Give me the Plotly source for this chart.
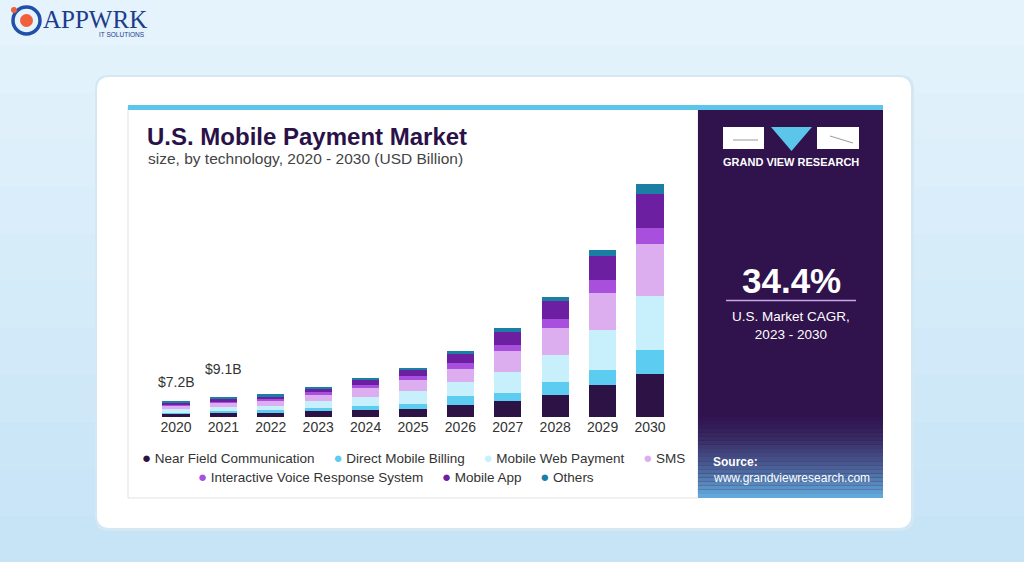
import plotly.graph_objects as go

W, H = 1024, 562

years = ["2020", "2021", "2022", "2023", "2024", "2025", "2026", "2027", "2028", "2029", "2030"]
series_names = ["Near Field Communication", "Direct Mobile Billing", "Mobile Web Payment", "SMS",
                "Interactive Voice Response System", "Mobile App", "Others"]
series_colors = ["#2d1245", "#5ccdf0", "#c8effc", "#dcaef0", "#a94fdd", "#6c1fa0", "#1b7ea3"]

nfc = [1.30, 1.60, 1.95, 2.85, 3.30, 3.80, 5.25, 7.05, 9.75, 14.25, 19.5]
dmb = [0.70, 0.90, 1.20, 1.20, 1.50, 2.25, 4.05, 3.90, 6.00, 7.05, 10.5]
mwp = [1.50, 1.85, 1.95, 3.00, 4.20, 5.65, 6.30, 9.25, 12.30, 18.00, 24.3]
sms = [1.55, 1.85, 2.10, 3.00, 4.05, 4.80, 6.15, 9.45, 12.15, 16.50, 23.7]
ivr = [0.55, 0.70, 0.75, 1.20, 1.50, 1.80, 2.50, 2.55, 3.75, 5.70, 7.2]
app = [0.90, 1.20, 1.15, 1.40, 2.25, 3.00, 4.20, 6.00, 8.25, 10.80, 15.3]
others = [0.70, 1.00, 1.10, 0.85, 0.75, 0.70, 1.20, 1.80, 1.80, 2.70, 4.5]
series_values = [nfc, dmb, mwp, sms, ivr, app, others]

total_labels = ["$7.2B", "$9.1B"]

title_text = "<b>U.S. Mobile Payment Market</b>"
subtitle_text = "size, by technology, 2020 - 2030 (USD Billion)"
cagr_value = "34.4%"
cagr_label = "U.S. Market CAGR,<br>2023 - 2030"


def px(x):
    return x / W


def py(y):
    return 1 - y / H


def rounded_rect(x0, y0, x1, y1, r):
    rx, ry = r / W, r / H
    X0, X1 = px(x0), px(x1)
    Y0, Y1 = py(y0), py(y1)
    return (f"M {X0+rx},{Y0} L {X1-rx},{Y0} Q {X1},{Y0} {X1},{Y0-ry} "
            f"L {X1},{Y1+ry} Q {X1},{Y1} {X1-rx},{Y1} L {X0+rx},{Y1} "
            f"Q {X0},{Y1} {X0},{Y1+ry} L {X0},{Y0-ry} Q {X0},{Y0} {X0+rx},{Y0} Z")


def lerp_color(c1, c2, t):
    a = [int(c1[i:i+2], 16) for i in (1, 3, 5)]
    b = [int(c2[i:i+2], 16) for i in (1, 3, 5)]
    return "#" + "".join(f"{round(a[k] + (b[k]-a[k])*t):02x}" for k in range(3))


fig = go.Figure()
for name, color, vals in zip(series_names, series_colors, series_values):
    fig.add_trace(go.Bar(x=years, y=vals, name=name, marker=dict(color=color, line=dict(width=0)),
                         showlegend=False, hoverinfo="x+y+name"))

shapes = []
for i in range(12):
    shapes.append(dict(type="rect", xref="paper", yref="paper", x0=0, x1=1,
                       y0=py(H * (i + 1) / 12), y1=py(H * i / 12),
                       fillcolor=lerp_color("#e4f3fc", "#c6e4f6", i / 11), line=dict(width=0), layer="below"))
shapes.append(dict(type="path", xref="paper", yref="paper", path=rounded_rect(95, 75, 914, 531, 14),
                   fillcolor="#d4e8f3", line=dict(width=0), layer="below"))
shapes.append(dict(type="path", xref="paper", yref="paper", path=rounded_rect(97, 77, 911, 528, 13),
                   fillcolor="#ffffff", line=dict(width=0), layer="below"))
shapes.append(dict(type="rect", xref="paper", yref="paper", x0=px(128), x1=px(698), y0=py(498), y1=py(106),
                   fillcolor="#ffffff", line=dict(color="#e3e3e3", width=1), layer="below"))
shapes.append(dict(type="rect", xref="paper", yref="paper", x0=px(698), x1=px(883), y0=py(498), y1=py(106),
                   fillcolor="#30124d", line=dict(width=0), layer="below"))
n_b = 22
for i in range(n_b):
    y0 = 408 + (498 - 408) * i / n_b
    y1 = 408 + (498 - 408) * (i + 1) / n_b
    shapes.append(dict(type="rect", xref="paper", yref="paper", x0=px(698), x1=px(883), y0=py(y1), y1=py(y0),
                       fillcolor=lerp_color("#30124d", "#62a8da", (i / (n_b - 1)) ** 1.6),
                       line=dict(width=0), layer="below"))
shapes.append(dict(type="rect", xref="paper", yref="paper", x0=px(128), x1=px(883), y0=py(110), y1=py(105),
                   fillcolor="#5cc6ea", line=dict(width=0), layer="below"))
shapes.append(dict(type="rect", xref="paper", yref="paper", x0=px(723), x1=px(764), y0=py(149), y1=py(127),
                   fillcolor="#ffffff", line=dict(width=0)))
shapes.append(dict(type="rect", xref="paper", yref="paper", x0=px(817), x1=px(859), y0=py(149), y1=py(127),
                   fillcolor="#ffffff", line=dict(width=0)))
shapes.append(dict(type="path", xref="paper", yref="paper",
                   path=f"M {px(771)},{py(127)} L {px(812)},{py(127)} L {px(791.5)},{py(151)} Z",
                   fillcolor="#5cc6ea", line=dict(width=0)))
shapes.append(dict(type="line", xref="paper", yref="paper", x0=px(733), x1=px(758), y0=py(140), y1=py(140),
                   line=dict(color="#9a9a9a", width=1)))
shapes.append(dict(type="line", xref="paper", yref="paper", x0=px(830), x1=px(853), y0=py(136), y1=py(143),
                   line=dict(color="#9a9a9a", width=1)))
shapes.append(dict(type="line", xref="paper", yref="paper", x0=px(726), x1=px(856), y0=py(300.5), y1=py(300.5),
                   line=dict(color="#c9a6e8", width=1.5)))
shapes.append(dict(type="circle", xref="paper", yref="paper", x0=px(13), x1=px(40), y0=py(34), y1=py(7),
                   fillcolor="rgba(0,0,0,0)", line=dict(color="#1f4fa8", width=3.5)))
shapes.append(dict(type="circle", xref="paper", yref="paper", x0=px(20), x1=px(33), y0=py(27), y1=py(14),
                   fillcolor="#f0603a", line=dict(width=0)))
shapes.append(dict(type="circle", xref="paper", yref="paper", x0=px(11), x1=px(17), y0=py(13), y1=py(7),
                   fillcolor="#f0603a", line=dict(width=0)))

annotations = []
font_main = "Liberation Sans, Arial, sans-serif"
annotations.append(dict(x=px(145), y=py(137), xref="paper", yref="paper", xanchor="left", yanchor="middle",
                        text=title_text, showarrow=False, font=dict(family=font_main, size=24, color="#2a1249")))
annotations.append(dict(x=px(146), y=py(159), xref="paper", yref="paper", xanchor="left", yanchor="middle",
                        text=subtitle_text, showarrow=False, font=dict(family=font_main, size=15.5, color="#444444")))
totals = [sum(v[i] for v in series_values) for i in range(len(years))]
label_shifts = [17, 26]
for i, lab in enumerate(total_labels):
    annotations.append(dict(x=i, y=totals[i], xref="x", yref="y", text=lab, showarrow=False,
                            yanchor="bottom", yshift=label_shifts[i] - 8,
                            font=dict(family=font_main, size=14, color="#333333")))


def legend_row(idx):
    parts = [f"<span style='color:{series_colors[i]};font-size:15px'>●</span> {series_names[i]}" for i in idx]
    return "&nbsp;&nbsp;&nbsp;&nbsp;&nbsp;".join(parts)


annotations.append(dict(x=px(413), y=py(457), xref="paper", yref="paper", xanchor="center", yanchor="middle",
                        text=legend_row(range(0, 4)), showarrow=False,
                        font=dict(family=font_main, size=13.5, color="#333333")))
annotations.append(dict(x=px(396), y=py(476), xref="paper", yref="paper", xanchor="center", yanchor="middle",
                        text=legend_row(range(4, 7)), showarrow=False,
                        font=dict(family=font_main, size=13.5, color="#333333")))
annotations.append(dict(x=px(791), y=py(162), xref="paper", yref="paper", xanchor="center", yanchor="middle",
                        text="<b>GRAND VIEW RESEARCH</b>", showarrow=False,
                        font=dict(family=font_main, size=11, color="#ffffff")))
annotations.append(dict(x=px(791), y=py(280), xref="paper", yref="paper", xanchor="center", yanchor="middle",
                        text=f"<b>{cagr_value}</b>", showarrow=False,
                        font=dict(family=font_main, size=35, color="#ffffff")))
annotations.append(dict(x=px(791), y=py(325), xref="paper", yref="paper", xanchor="center", yanchor="middle",
                        text=cagr_label, showarrow=False,
                        font=dict(family=font_main, size=13.5, color="#ffffff")))
annotations.append(dict(x=px(711), y=py(462), xref="paper", yref="paper", xanchor="left", yanchor="middle",
                        text="<b>Source:</b>", showarrow=False,
                        font=dict(family=font_main, size=12, color="#ffffff")))
annotations.append(dict(x=px(711), y=py(478), xref="paper", yref="paper", xanchor="left", yanchor="middle",
                        text="www.grandviewresearch.com", showarrow=False,
                        font=dict(family=font_main, size=12, color="#ffffff")))
annotations.append(dict(x=px(41), y=py(19), xref="paper", yref="paper", xanchor="left", yanchor="middle",
                        text="APPWRK", showarrow=False,
                        font=dict(family="Liberation Serif, serif", size=25, color="#1e3c8c")))
annotations.append(dict(x=px(147), y=py(34), xref="paper", yref="paper", xanchor="right", yanchor="middle",
                        text="IT SOLUTIONS", showarrow=False,
                        font=dict(family=font_main, size=6.5, color="#1e3c8c")))

base_y = 417
top_y = 417 - 120 / 0.45
fig.update_layout(
    width=W, height=H, margin=dict(l=0, r=0, t=0, b=0, autoexpand=False),
    barmode="stack", bargap=0.43,
    paper_bgcolor="#d5ecf9", plot_bgcolor="rgba(0,0,0,0)",
    xaxis=dict(type="category", domain=[152.3 / W, 673.7 / W], range=[-0.5, 10.5], autorange=False,
               automargin=False, showgrid=False, zeroline=False,
               showline=False, ticks="", tickfont=dict(family=font_main, size=14, color="#333333"),
               fixedrange=True),
    yaxis=dict(range=[0, 120], domain=[py(base_y), py(top_y)], visible=False, fixedrange=True,
               automargin=False),
    shapes=shapes, annotations=annotations, showlegend=False,
)

fig.write_html("out.html", config={"displayModeBar": False},
               post_script="document.body.style.margin='0';document.body.style.overflow='hidden';")
